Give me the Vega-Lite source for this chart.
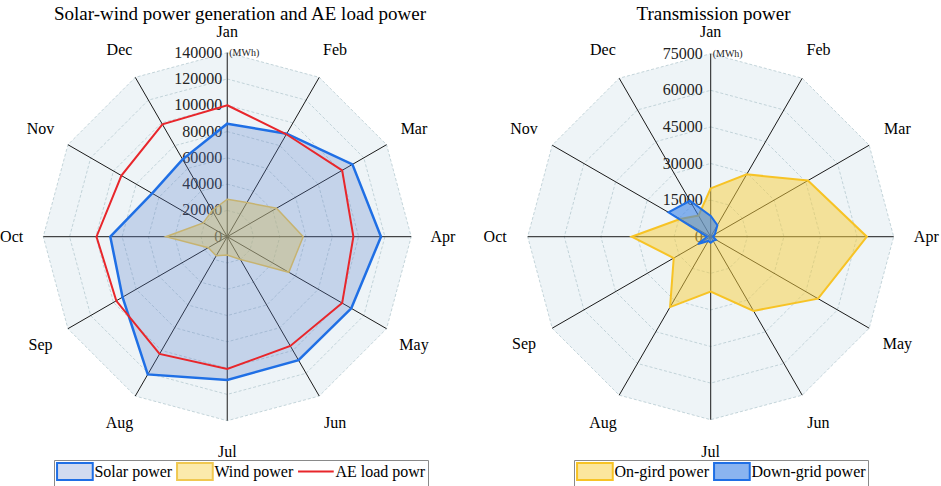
{
  "$schema": "https://vega.github.io/schema/vega-lite/v6.json",
  "padding": {"top": 5, "left": 0, "right": 0, "bottom": 0},
  "spacing": 0,
  "bounds": "flush",
  "config": {
    "view": {"stroke": null},
    "font": "Liberation Serif",
    "title": {"fontSize": 19, "fontWeight": "normal", "color": "#000", "offset": -1, "font": "Liberation Serif"},
    "legend": {
      "title": null,
      "orient": "none",
      "direction": "horizontal",
      "columns": 3,
      "gridAlign": "none",
      "symbolSize": 289,
      "symbolStrokeWidth": 2,
      "symbolOffset": 9.4,
      "labelOffset": 10,
      "columnPadding": 0,
      "labelFont": "Liberation Serif",
      "labelFontSize": 16,
      "labelColor": "#000",
      "labelLimit": 0,
      "padding": 2,
      "strokeColor": "#8a8a8a",
      "fillColor": "#fff"
    }
  },
  "datasets": {
    "months": [
      {"m": "Jan", "i": 0}, {"m": "Feb", "i": 1}, {"m": "Mar", "i": 2},
      {"m": "Apr", "i": 3}, {"m": "May", "i": 4}, {"m": "Jun", "i": 5},
      {"m": "Jul", "i": 6}, {"m": "Aug", "i": 7}, {"m": "Sep", "i": 8},
      {"m": "Oct", "i": 9}, {"m": "Nov", "i": 10}, {"m": "Dec", "i": 11}
    ],
    "swLevels": [
      {"v": 0, "t": "0", "i": [0,1,2,3,4,5,6,7,8,9,10,11]},
      {"v": 20000, "t": "20000", "i": [0,1,2,3,4,5,6,7,8,9,10,11]},
      {"v": 40000, "t": "40000", "i": [0,1,2,3,4,5,6,7,8,9,10,11]},
      {"v": 60000, "t": "60000", "i": [0,1,2,3,4,5,6,7,8,9,10,11]},
      {"v": 80000, "t": "80000", "i": [0,1,2,3,4,5,6,7,8,9,10,11]},
      {"v": 100000, "t": "100000", "i": [0,1,2,3,4,5,6,7,8,9,10,11]},
      {"v": 120000, "t": "120000", "i": [0,1,2,3,4,5,6,7,8,9,10,11]},
      {"v": 140000, "t": "140000", "i": [0,1,2,3,4,5,6,7,8,9,10,11]}
    ],
    "tpLevels": [
      {"v": 0, "t": "0", "i": [0,1,2,3,4,5,6,7,8,9,10,11]},
      {"v": 15000, "t": "15000", "i": [0,1,2,3,4,5,6,7,8,9,10,11]},
      {"v": 30000, "t": "30000", "i": [0,1,2,3,4,5,6,7,8,9,10,11]},
      {"v": 45000, "t": "45000", "i": [0,1,2,3,4,5,6,7,8,9,10,11]},
      {"v": 60000, "t": "60000", "i": [0,1,2,3,4,5,6,7,8,9,10,11]},
      {"v": 75000, "t": "75000", "i": [0,1,2,3,4,5,6,7,8,9,10,11]}
    ],
    "sw": [
      {"s": "Solar power", "i": 0, "v": 86000}, {"s": "Solar power", "i": 1, "v": 90500},
      {"s": "Solar power", "i": 2, "v": 110000}, {"s": "Solar power", "i": 3, "v": 117000},
      {"s": "Solar power", "i": 4, "v": 109000}, {"s": "Solar power", "i": 5, "v": 108500},
      {"s": "Solar power", "i": 6, "v": 109000}, {"s": "Solar power", "i": 7, "v": 121000},
      {"s": "Solar power", "i": 8, "v": 92000}, {"s": "Solar power", "i": 9, "v": 89000},
      {"s": "Solar power", "i": 10, "v": 66000}, {"s": "Solar power", "i": 11, "v": 68000},
      {"s": "Wind power", "i": 0, "v": 28500}, {"s": "Wind power", "i": 1, "v": 30000},
      {"s": "Wind power", "i": 2, "v": 43300}, {"s": "Wind power", "i": 3, "v": 57800},
      {"s": "Wind power", "i": 4, "v": 54100}, {"s": "Wind power", "i": 5, "v": 20000},
      {"s": "Wind power", "i": 6, "v": 14000}, {"s": "Wind power", "i": 7, "v": 16800},
      {"s": "Wind power", "i": 8, "v": 16700}, {"s": "Wind power", "i": 9, "v": 46700},
      {"s": "Wind power", "i": 10, "v": 21100}, {"s": "Wind power", "i": 11, "v": 23000},
      {"s": "AE load powr", "i": 0, "v": 100000}, {"s": "AE load powr", "i": 1, "v": 90000},
      {"s": "AE load powr", "i": 2, "v": 101000}, {"s": "AE load powr", "i": 3, "v": 96000},
      {"s": "AE load powr", "i": 4, "v": 101000}, {"s": "AE load powr", "i": 5, "v": 96000},
      {"s": "AE load powr", "i": 6, "v": 100700}, {"s": "AE load powr", "i": 7, "v": 103000},
      {"s": "AE load powr", "i": 8, "v": 97500}, {"s": "AE load powr", "i": 9, "v": 99500},
      {"s": "AE load powr", "i": 10, "v": 93000}, {"s": "AE load powr", "i": 11, "v": 98700}
    ],
    "tp": [
      {"s": "On-gird power", "i": 0, "v": 19800}, {"s": "On-gird power", "i": 1, "v": 29500},
      {"s": "On-gird power", "i": 2, "v": 46000}, {"s": "On-gird power", "i": 3, "v": 64000},
      {"s": "On-gird power", "i": 4, "v": 50800}, {"s": "On-gird power", "i": 5, "v": 35100},
      {"s": "On-gird power", "i": 6, "v": 22500}, {"s": "On-gird power", "i": 7, "v": 33300},
      {"s": "On-gird power", "i": 8, "v": 17500}, {"s": "On-gird power", "i": 9, "v": 32400},
      {"s": "On-gird power", "i": 10, "v": 14500}, {"s": "On-gird power", "i": 11, "v": 10000},
      {"s": "Down-grid power", "i": 0, "v": 8500}, {"s": "Down-grid power", "i": 1, "v": 5500},
      {"s": "Down-grid power", "i": 2, "v": 2000}, {"s": "Down-grid power", "i": 3, "v": 1000},
      {"s": "Down-grid power", "i": 4, "v": 2500}, {"s": "Down-grid power", "i": 5, "v": 2000},
      {"s": "Down-grid power", "i": 6, "v": 2500}, {"s": "Down-grid power", "i": 7, "v": 2000},
      {"s": "Down-grid power", "i": 8, "v": 6000}, {"s": "Down-grid power", "i": 9, "v": 1500},
      {"s": "Down-grid power", "i": 10, "v": 20000}, {"s": "Down-grid power", "i": 11, "v": 17000}
    ]
  },
  "hconcat": [
    {
      "width": 470,
      "height": 463,
      "title": {"text": "Solar-wind power generation and AE load power", "dx": 5},
      "encoding": {
        "x": {"field": "x", "type": "quantitative", "axis": null,
              "scale": {"domain": [-1.2353, 1.3196], "nice": false, "zero": false}},
        "y": {"field": "y", "type": "quantitative", "axis": null,
              "scale": {"domain": [-1.3549, 1.1614], "nice": false, "zero": false}}
      },
      "layer": [
        {
          "data": {"name": "swLevels"},
          "transform": [
            {"filter": "datum.v == 140000"},
            {"flatten": ["i"]},
            {"calculate": "datum.v / 140000 * sin(datum.i * PI / 6)", "as": "x"},
            {"calculate": "datum.v / 140000 * cos(datum.i * PI / 6)", "as": "y"}
          ],
          "mark": {"type": "line", "interpolate": "linear-closed", "fill": "#eef4f7", "strokeWidth": 0},
          "encoding": {"order": {"field": "i"}}
        },
        {
          "data": {"name": "swLevels"},
          "transform": [
            {"filter": "datum.v > 0"},
            {"flatten": ["i"]},
            {"calculate": "datum.v / 140000 * sin(datum.i * PI / 6)", "as": "x"},
            {"calculate": "datum.v / 140000 * cos(datum.i * PI / 6)", "as": "y"}
          ],
          "mark": {"type": "line", "interpolate": "linear-closed", "stroke": "#b6cad0", "strokeWidth": 0.8, "strokeDash": [3, 2]},
          "encoding": {"detail": {"field": "v"}, "order": {"field": "i"}}
        },
        {
          "data": {"name": "months"},
          "transform": [
            {"calculate": "sin(datum.i * PI / 6)", "as": "x"},
            {"calculate": "cos(datum.i * PI / 6)", "as": "y"}
          ],
          "mark": {"type": "rule", "color": "#1a1a1a", "strokeWidth": 1},
          "encoding": {"x2": {"datum": 0}, "y2": {"datum": 0}}
        },
        {
          "data": {"name": "swLevels"},
          "transform": [
            {"calculate": "0", "as": "x"},
            {"calculate": "datum.v / 140000", "as": "y"}
          ],
          "mark": {"type": "text", "align": "right", "baseline": "middle", "dx": -5, "fontSize": 16, "color": "#222"},
          "encoding": {"text": {"field": "t"}}
        },
        {
          "data": {"name": "swLevels"},
          "transform": [
            {"filter": "datum.v == 140000"},
            {"calculate": "0", "as": "x"},
            {"calculate": "datum.v / 140000", "as": "y"}
          ],
          "mark": {"type": "text", "align": "left", "baseline": "middle", "dx": 2, "fontSize": 10, "color": "#222", "text": "(MWh)"}
        },
        {
          "data": {"name": "sw"},
          "transform": [
            {"filter": "datum.s == 'Wind power'"},
            {"calculate": "datum.v / 140000 * sin(datum.i * PI / 6)", "as": "x"},
            {"calculate": "datum.v / 140000 * cos(datum.i * PI / 6)", "as": "y"}
          ],
          "mark": {"type": "line", "interpolate": "linear-closed", "strokeWidth": 1.5},
          "encoding": {
            "order": {"field": "i"},
            "fill": {"field": "s", "type": "nominal",
                     "scale": {"domain": ["Solar power", "Wind power", "AE load powr"], "range": ["rgba(90,125,200,0.28)", "rgba(247,208,70,0.45)", "transparent"]},
                     "legend": {"legendX": 54, "legendY": 437, "symbolType": {"expr": "datum.value === 'AE load powr' ? 'M-2.1,0H2.1' : 'M-2.1,-1H2.1V1H-2.1Z'"}}},
            "stroke": {"field": "s", "type": "nominal",
                       "scale": {"domain": ["Solar power", "Wind power", "AE load powr"], "range": ["#1f6fe5", "#f0c850", "#e8262b"]},
                       "legend": {"legendX": 54, "legendY": 437, "symbolType": {"expr": "datum.value === 'AE load powr' ? 'M-2.1,0H2.1' : 'M-2.1,-1H2.1V1H-2.1Z'"}}}
          }
        },
        {
          "data": {"name": "sw"},
          "transform": [
            {"filter": "datum.s == 'Solar power'"},
            {"calculate": "datum.v / 140000 * sin(datum.i * PI / 6)", "as": "x"},
            {"calculate": "datum.v / 140000 * cos(datum.i * PI / 6)", "as": "y"}
          ],
          "mark": {"type": "line", "interpolate": "linear-closed", "strokeWidth": 2.5},
          "encoding": {
            "order": {"field": "i"},
            "fill": {"field": "s", "type": "nominal"},
            "stroke": {"field": "s", "type": "nominal"}
          }
        },
        {
          "data": {"name": "sw"},
          "transform": [
            {"filter": "datum.s == 'AE load powr'"},
            {"calculate": "datum.v / 140000 * sin(datum.i * PI / 6)", "as": "x"},
            {"calculate": "datum.v / 140000 * cos(datum.i * PI / 6)", "as": "y"}
          ],
          "mark": {"type": "line", "interpolate": "linear-closed", "strokeWidth": 2},
          "encoding": {
            "order": {"field": "i"},
            "fill": {"field": "s", "type": "nominal"},
            "stroke": {"field": "s", "type": "nominal"}
          }
        },
        {
          "data": {"name": "months"},
          "transform": [
            {"calculate": "datum.i == 0 ? 1.112 : 1.172", "as": "rho"},
            {"calculate": "datum.rho * sin(datum.i * PI / 6)", "as": "x"},
            {"calculate": "datum.rho * cos(datum.i * PI / 6)", "as": "y"}
          ],
          "mark": {"type": "text", "align": "center", "baseline": "middle", "fontSize": 16, "color": "#000"},
          "encoding": {"text": {"field": "m"}}
        }
      ]
    },
    {
      "width": 471,
      "height": 463,
      "title": {"text": "Transmission power", "dx": 8},
      "encoding": {
        "x": {"field": "x", "type": "quantitative", "axis": null,
              "scale": {"domain": [-1.3153, 1.2585], "nice": false, "zero": false}},
        "y": {"field": "y", "type": "quantitative", "axis": null,
              "scale": {"domain": [-1.3623, 1.1678], "nice": false, "zero": false}}
      },
      "layer": [
        {
          "data": {"name": "tpLevels"},
          "transform": [
            {"filter": "datum.v == 75000"},
            {"flatten": ["i"]},
            {"calculate": "datum.v / 75000 * sin(datum.i * PI / 6)", "as": "x"},
            {"calculate": "datum.v / 75000 * cos(datum.i * PI / 6)", "as": "y"}
          ],
          "mark": {"type": "line", "interpolate": "linear-closed", "fill": "#eef4f7", "strokeWidth": 0},
          "encoding": {"order": {"field": "i"}}
        },
        {
          "data": {"name": "tpLevels"},
          "transform": [
            {"filter": "datum.v > 0"},
            {"flatten": ["i"]},
            {"calculate": "datum.v / 75000 * sin(datum.i * PI / 6)", "as": "x"},
            {"calculate": "datum.v / 75000 * cos(datum.i * PI / 6)", "as": "y"}
          ],
          "mark": {"type": "line", "interpolate": "linear-closed", "stroke": "#b6cad0", "strokeWidth": 0.8, "strokeDash": [3, 2]},
          "encoding": {"detail": {"field": "v"}, "order": {"field": "i"}}
        },
        {
          "data": {"name": "months"},
          "transform": [
            {"calculate": "sin(datum.i * PI / 6)", "as": "x"},
            {"calculate": "cos(datum.i * PI / 6)", "as": "y"}
          ],
          "mark": {"type": "rule", "color": "#1a1a1a", "strokeWidth": 1},
          "encoding": {"x2": {"datum": 0}, "y2": {"datum": 0}}
        },
        {
          "data": {"name": "tpLevels"},
          "transform": [
            {"calculate": "0", "as": "x"},
            {"calculate": "datum.v / 75000", "as": "y"}
          ],
          "mark": {"type": "text", "align": "right", "baseline": "middle", "dx": -8, "fontSize": 16, "color": "#222"},
          "encoding": {"text": {"field": "t"}}
        },
        {
          "data": {"name": "tpLevels"},
          "transform": [
            {"filter": "datum.v == 75000"},
            {"calculate": "0", "as": "x"},
            {"calculate": "datum.v / 75000", "as": "y"}
          ],
          "mark": {"type": "text", "align": "left", "baseline": "middle", "dx": 2, "fontSize": 10, "color": "#222", "text": "(MWh)"}
        },
        {
          "data": {"name": "tp"},
          "transform": [
            {"filter": "datum.s == 'On-gird power'"},
            {"calculate": "datum.v / 75000 * sin(datum.i * PI / 6)", "as": "x"},
            {"calculate": "datum.v / 75000 * cos(datum.i * PI / 6)", "as": "y"}
          ],
          "mark": {"type": "line", "interpolate": "linear-closed", "strokeWidth": 2},
          "encoding": {
            "order": {"field": "i"},
            "fill": {"field": "s", "type": "nominal",
                     "scale": {"domain": ["On-gird power", "Down-grid power"], "range": ["rgba(247,205,60,0.5)", "rgba(60,130,230,0.6)"]},
                     "legend": {"legendX": 104, "legendY": 437, "symbolType": "M-2.1,-1H2.1V1H-2.1Z"}},
            "stroke": {"field": "s", "type": "nominal",
                       "scale": {"domain": ["On-gird power", "Down-grid power"], "range": ["#f7c325", "#1f6fe5"]},
                       "legend": {"legendX": 104, "legendY": 437, "symbolType": "M-2.1,-1H2.1V1H-2.1Z"}}
          }
        },
        {
          "data": {"name": "tp"},
          "transform": [
            {"filter": "datum.s == 'Down-grid power'"},
            {"calculate": "datum.v / 75000 * sin(datum.i * PI / 6)", "as": "x"},
            {"calculate": "datum.v / 75000 * cos(datum.i * PI / 6)", "as": "y"}
          ],
          "mark": {"type": "line", "interpolate": "linear-closed", "strokeWidth": 2},
          "encoding": {
            "order": {"field": "i"},
            "fill": {"field": "s", "type": "nominal"},
            "stroke": {"field": "s", "type": "nominal"}
          }
        },
        {
          "data": {"name": "months"},
          "transform": [
            {"calculate": "datum.i == 0 ? 1.118 : 1.178", "as": "rho"},
            {"calculate": "datum.rho * sin(datum.i * PI / 6)", "as": "x"},
            {"calculate": "datum.rho * cos(datum.i * PI / 6)", "as": "y"}
          ],
          "mark": {"type": "text", "align": "center", "baseline": "middle", "fontSize": 16, "color": "#000"},
          "encoding": {"text": {"field": "m"}}
        }
      ]
    }
  ],
  "resolve": {"scale": {"x": "independent", "y": "independent", "fill": "independent", "stroke": "independent"}}
}
